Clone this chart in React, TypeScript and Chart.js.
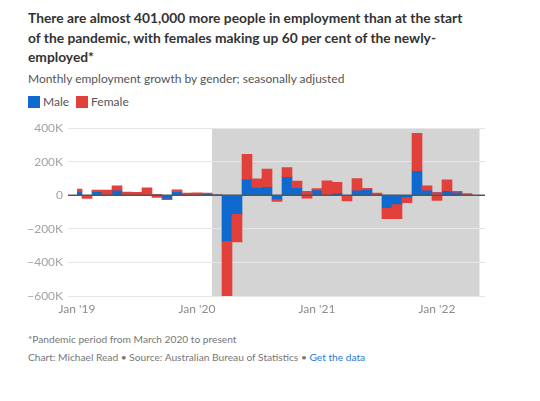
import React, { useEffect, useRef } from "react";
import { Chart, registerables } from "chart.js";

Chart.register(...registerables);

// Month index 0 = Jan 2019 ... 39 = Apr 2022
const tickPositions = [0, 12, 24, 36];
const tickLabels = ["Jan '19", "Jan '20", "Jan '21", "Jan '22"];

// Monthly employment change, thousands
const maleK = [
  22, 0, 22, 4, 30, 3, 2, 4, 5, -22, 23, 2, 3, 10,
  1, -276, -114, 96, 47, 52, -26, 111, 46, 23,
  32, 3, 15, -2, 31, 35, 3, -78, -55, -14, 147, 30,
  16, 27, 19, 2,
];
const femaleK = [
  15, -18, 9, 27, 26, 17, 16, 41, -17, -4, 9, 12, 12, 4,
  1, -330, -163, 149, 51, 104, -10, 54, 39, -40,
  8, 83, 62, -32, 69, 6, 11, -61, -84, -30, 223, 27,
  -47, 65, 5, 9,
];

const yMin = -600;
const yMax = 400;
const yStep = 200;
const pandemicStart = 14; // March 2020
const presentPos = 40.25;
const xMax = 40.8;

const BLUE = "#0f6ad0";
const RED = "#e2403b";
const SHADE = "#d4d4d4";
const FONT = "Lato, 'Noto Sans', sans-serif";

function ChartCanvas() {
  const ref = useRef<HTMLCanvasElement | null>(null);
  useEffect(() => {
    if (!ref.current) return;
    const maleData = maleK.map((v, i) => ({ x: i, y: v }));
    const femaleData = femaleK.map((v, i) => ({ x: i, y: [maleK[i], maleK[i] + v] }));

    const shadePlugin = {
      id: "shade",
      beforeDraw(chart: any) {
        const { ctx, chartArea, scales } = chart;
        const x0 = scales.x.getPixelForValue(pandemicStart - 0.5);
        const x1 = scales.x.getPixelForValue(presentPos);
        ctx.save();
        ctx.fillStyle = SHADE;
        ctx.fillRect(x0, chartArea.top, x1 - x0, chartArea.bottom - chartArea.top);
        ctx.restore();
      },
    };
    const zeroPlugin = {
      id: "zeroLine",
      afterDatasetsDraw(chart: any) {
        const { ctx, chartArea, scales } = chart;
        const y = scales.y.getPixelForValue(0);
        ctx.save();
        ctx.strokeStyle = "#555555";
        ctx.lineWidth = 1.5;
        ctx.beginPath();
        ctx.moveTo(chartArea.left - 9, y);
        ctx.lineTo(chartArea.right, y);
        ctx.stroke();
        ctx.restore();
      },
    };

    const chart = new Chart(ref.current, {
      type: "bar",
      data: {
        datasets: [
          {
            label: "Male",
            data: maleData as any,
            backgroundColor: BLUE,
            borderWidth: 0,
            order: 1,
            grouped: false,
            barPercentage: 1,
            categoryPercentage: 1,
            clip: 0,
          } as any,
          {
            label: "Female",
            data: femaleData as any,
            backgroundColor: RED,
            borderWidth: 0,
            order: 0,
            grouped: false,
            barPercentage: 1,
            categoryPercentage: 1,
            clip: 0,
          } as any,
        ],
      },
      options: {
        animation: false,
        responsive: false,
        maintainAspectRatio: false,
        layout: { padding: { top: 10, right: 47, bottom: 0, left: 0 } },
        plugins: { legend: { display: false }, tooltip: { enabled: false } },
        scales: {
          x: {
            type: "linear",
            offset: false,
            min: 0,
            max: xMax,
            grid: { display: false, drawTicks: false, offset: false },
            border: { display: false },
            afterBuildTicks: (scale: any) => {
              scale.ticks = tickPositions.map((v) => ({ value: v }));
            },
            afterFit: (scale: any) => {
              scale.height = 24;
            },
            ticks: {
              autoSkip: false,
              maxRotation: 0,
              padding: 6,
              color: "#8c8c8c",
              font: { family: FONT, size: 12 },
              callback: (v: any) => {
                const idx = tickPositions.indexOf(Number(v));
                return idx >= 0 ? tickLabels[idx] : "";
              },
            },
          },
          y: {
            type: "linear",
            min: yMin,
            max: yMax,
            grid: { color: "#e6e6e6", tickColor: "#e6e6e6", tickLength: 9, lineWidth: 1 },
            border: { display: false },
            afterFit: (scale: any) => {
              scale.width = 69;
            },
            ticks: {
              stepSize: yStep,
              padding: 5,
              color: "#a3a3a3",
              font: { family: FONT, size: 12 },
              callback: (v: any) => {
                const n = Number(v);
                if (n === 0) return "0";
                return (n < 0 ? "\u2212" + Math.abs(n) : String(n)) + "K";
              },
            },
          },
        },
      },
      plugins: [shadePlugin, zeroPlugin],
    });
    return () => chart.destroy();
  }, []);
  return (
    <canvas
      ref={ref}
      width={524}
      height={204}
      style={{ position: "absolute", left: 0, top: 108, width: 524, height: 204 }}
    />
  );
}

export default function App() {
  const sq = (c: string) => ({
    display: "inline-block",
    width: 12,
    height: 12,
    background: c,
    marginRight: 3,
  });
  return (
    <div style={{ position: "relative", width: 524, height: 385, fontFamily: FONT }}>
      <div
        style={{
          position: "absolute",
          left: 20,
          top: 0,
          fontWeight: 700,
          fontSize: 13.8,
          lineHeight: "19.5px",
          color: "#333333",
          whiteSpace: "nowrap",
        }}
      >
        There are almost 401,000 more people in employment than at the start
        <br />
        of the pandemic, with females making up 60 per cent of the newly-
        <br />
        employed*
      </div>
      <div
        style={{
          position: "absolute",
          left: 20,
          top: 63,
          fontSize: 12,
          lineHeight: "16px",
          color: "#555555",
          whiteSpace: "nowrap",
        }}
      >
        Monthly employment growth by gender; seasonally adjusted
      </div>
      <div
        style={{
          position: "absolute",
          left: 20,
          top: 86,
          fontSize: 12,
          lineHeight: "16px",
          color: "#555555",
          display: "flex",
          alignItems: "center",
          whiteSpace: "nowrap",
        }}
      >
        <span style={sq(BLUE)} />
        <span style={{ marginRight: 7 }}>Male</span>
        <span style={sq(RED)} />
        <span>Female</span>
      </div>
      <ChartCanvas />
      <div
        style={{
          position: "absolute",
          left: 20,
          top: 324,
          fontSize: 10.2,
          lineHeight: "14px",
          color: "#777777",
          whiteSpace: "nowrap",
        }}
      >
        *Pandemic period from March 2020 to present
      </div>
      <div
        style={{
          position: "absolute",
          left: 20,
          top: 342,
          fontSize: 10.2,
          lineHeight: "14px",
          color: "#777777",
          whiteSpace: "nowrap",
        }}
      >
        Chart: Michael Read • Source: Australian Bureau of Statistics •{" "}
        <span style={{ color: "#2a7bd6" }}>Get the data</span>
      </div>
    </div>
  );
}
